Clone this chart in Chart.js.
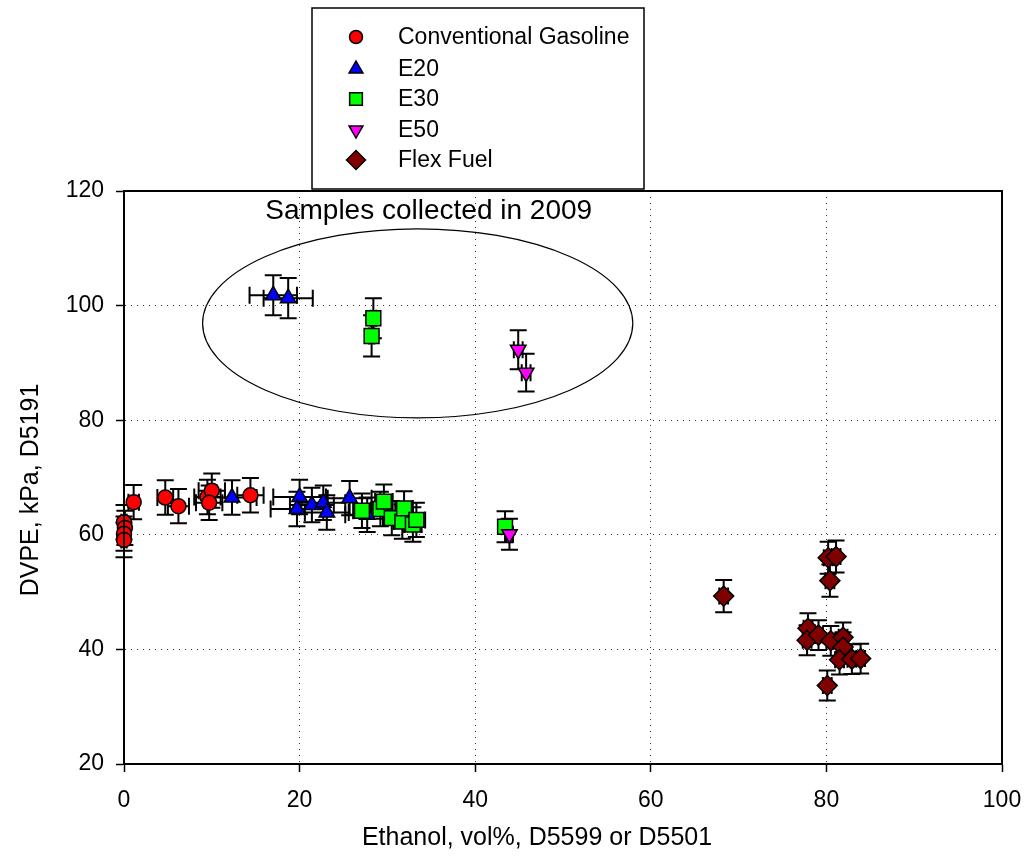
<!DOCTYPE html>
<html><head><meta charset="utf-8">
<script src="https://cdn.jsdelivr.net/npm/chart.js@4/dist/chart.umd.min.js"></script>
<style>html,body{margin:0;padding:0;background:#fff;}canvas{display:block;}</style>
</head><body>
<canvas id="c" width="1027" height="859"></canvas>
<script>
const FONT = '"Liberation Sans", Arial, Helvetica, sans-serif';

// ---- data ----
const seriesNames = ['Conventional Gasoline', 'E20', 'E30', 'E50', 'Flex Fuel'];

const gasX    = [0, 0.1, 0, 0, 1.1, 4.7, 6.2, 9.5, 10.0, 9.7, 14.4];
const gasY    = [62.2, 61.2, 60.2, 59.1, 65.7, 66.5, 65.0, 66.6, 67.7, 65.6, 66.9];
const gasXErr = [0.3, 0.3, 0.3, 0.3, 0.6, 0.9, 1.2, 1.5, 1.5, 1.5, 1.5];
const gasYErr = [3, 3, 3, 3, 3, 3, 3, 3, 3, 3, 3];

const e20X    = [17.0, 18.7, 12.3, 20.0, 19.7, 21.4, 22.7, 23.1, 25.7, 27.7];
const e20Y    = [101.8, 101.3, 66.5, 66.6, 64.5, 65.2, 65.6, 63.9, 66.4, 63.5];
const e20XErr = [2.7, 2.8, 2.8, 3.0, 3.0, 2.5, 2.5, 2.5, 2.5, 2.5];
const e20YErr = [3.5, 3.5, 3.0, 3.0, 3.0, 3.0, 3.0, 3.0, 3.0, 3.0];

const e30X    = [28.4, 28.2, 27.1, 29.2, 29.6, 30.5, 31.7, 31.9, 32.9, 33.3, 43.4];
const e30Y    = [97.8, 94.7, 64.2, 64.5, 65.8, 62.9, 62.3, 64.6, 61.8, 62.6, 61.4];
const e30XErr = [0.3, 0.3, 1, 1, 1, 1, 1, 1, 1, 1, 0.4];
const e30YErr = [3.5, 3.6, 3, 3, 3, 3, 3, 3, 3, 3, 2.7];

const e50X    = [44.9, 45.8, 43.9];
const e50Y    = [92.3, 88.3, 60.1];
const e50XErr = [0.5, 0.5, 0.4];
const e50YErr = [3.4, 3.3, 2.7];

const flexX    = [68.3, 80.2, 81.1, 80.4, 77.9, 77.8, 79.1, 80.5, 81.9, 81.9, 81.5, 82.9, 83.9, 80.1];
const flexY    = [49.3, 56.0, 56.2, 52.0, 43.7, 41.6, 42.5, 41.5, 42.1, 40.4, 38.2, 38.3, 38.4, 33.7];
const flexXErr = [0.5, 0.5, 0.5, 0.5, 0.5, 0.5, 0.5, 0.5, 0.5, 0.5, 0.5, 0.5, 0.5, 0.5];
const flexYErr = [2.8, 2.8, 2.8, 2.8, 2.6, 2.6, 2.6, 2.6, 2.6, 2.6, 2.6, 2.6, 2.6, 2.6];

const xTicks = [0, 20, 40, 60, 80, 100];
const yTicks = [20, 40, 60, 80, 100, 120];

const xTitle = 'Ethanol, vol%, D5599 or D5501';
const yTitle = 'DVPE, kPa, D5191';
const noteText = 'Samples collected in 2009';
const noteAt = [34.7, 116.5];
const ellipseCenter = [33.45, 96.9];
const ellipseRadii = [24.5, 16.5];

// ---- helpers ----
function pts(xs, ys) { return xs.map((x, i) => ({x: x, y: ys[i]})); }

function drawMarker(ctx, style, rot, x, y, r, fill) {
  ctx.save();
  ctx.fillStyle = fill; ctx.strokeStyle = '#000'; ctx.lineWidth = 1.5;
  ctx.beginPath();
  if (style === 'circle') {
    ctx.arc(x, y, r, 0, Math.PI * 2);
  } else if (style === 'triangle') {
    const s = rot ? -1 : 1;
    ctx.moveTo(x, y - s * r);
    ctx.lineTo(x + r * 0.866, y + s * r / 2);
    ctx.lineTo(x - r * 0.866, y + s * r / 2);
    ctx.closePath();
  } else if (style === 'rect') {
    const h = r * Math.SQRT1_2;
    ctx.rect(x - h, y - h, 2 * h, 2 * h);
  } else if (style === 'rectRot') {
    ctx.moveTo(x, y - r); ctx.lineTo(x + r, y); ctx.lineTo(x, y + r); ctx.lineTo(x - r, y);
    ctx.closePath();
  }
  ctx.fill(); ctx.stroke();
  ctx.restore();
}

function makeSet(idx, xs, ys, xe, ye, style, rot, r, legendR, fill) {
  return {
    label: seriesNames[idx], data: pts(xs, ys), xErr: xe, yErr: ye, legendRadius: legendR,
    order: seriesNames.length - idx,
    pointStyle: style, rotation: rot, pointRadius: r, pointHoverRadius: r,
    backgroundColor: fill, borderColor: '#000', borderWidth: 1.5,
    clip: false, showLine: false
  };
}

const datasets = [
  makeSet(0, gasX, gasY, gasXErr, gasYErr, 'circle', 0, 7.5, 6.5, '#ff0000'),
  makeSet(1, e20X, e20Y, e20XErr, e20YErr, 'triangle', 0, 9, 8, '#0000ff'),
  makeSet(2, e30X, e30Y, e30XErr, e30YErr, 'rect', 0, 10.5, 9, '#00ff00'),
  makeSet(3, e50X, e50Y, e50XErr, e50YErr, 'triangle', 180, 9, 8, '#ff00ff'),
  makeSet(4, flexX, flexY, flexXErr, flexYErr, 'rectRot', 0, 10, 9.5, '#800000')
];

const errorBars = {
  id: 'errorBars',
  beforeDatasetsDraw(chart) {
    const ctx = chart.ctx, xs = chart.scales.x, ys = chart.scales.y;
    const cap = 8.5;
    ctx.save();
    ctx.strokeStyle = '#000'; ctx.lineWidth = 2;
    chart.data.datasets.forEach(ds => {
      ds.data.forEach((p, i) => {
        const px = xs.getPixelForValue(p.x), py = ys.getPixelForValue(p.y);
        const y1 = ys.getPixelForValue(p.y + ds.yErr[i]), y2 = ys.getPixelForValue(p.y - ds.yErr[i]);
        const x1 = xs.getPixelForValue(p.x - ds.xErr[i]), x2 = xs.getPixelForValue(p.x + ds.xErr[i]);
        ctx.beginPath();
        ctx.moveTo(px, y1); ctx.lineTo(px, y2);
        ctx.moveTo(px - cap, y1); ctx.lineTo(px + cap, y1);
        ctx.moveTo(px - cap, y2); ctx.lineTo(px + cap, y2);
        ctx.moveTo(x1, py); ctx.lineTo(x2, py);
        ctx.moveTo(x1, py - cap); ctx.lineTo(x1, py + cap);
        ctx.moveTo(x2, py - cap); ctx.lineTo(x2, py + cap);
        ctx.stroke();
      });
    });
    ctx.restore();
  }
};

const decorations = {
  id: 'decorations',
  afterDraw(chart) {
    const ctx = chart.ctx, xs = chart.scales.x, ys = chart.scales.y, a = chart.chartArea;
    ctx.save();
    // frame
    ctx.strokeStyle = '#000'; ctx.lineWidth = 2;
    ctx.strokeRect(a.left, a.top, a.right - a.left, a.bottom - a.top);
    // ellipse
    const cx = xs.getPixelForValue(ellipseCenter[0]), cy = ys.getPixelForValue(ellipseCenter[1]);
    const rx = xs.getPixelForValue(ellipseCenter[0] + ellipseRadii[0]) - cx;
    const ry = cy - ys.getPixelForValue(ellipseCenter[1] + ellipseRadii[1]);
    ctx.lineWidth = 1.2;
    ctx.beginPath(); ctx.ellipse(cx, cy, rx, ry, 0, 0, Math.PI * 2); ctx.stroke();
    // note
    ctx.fillStyle = '#000';
    ctx.font = '28px ' + FONT; ctx.textAlign = 'center'; ctx.textBaseline = 'middle';
    ctx.fillText(noteText, xs.getPixelForValue(noteAt[0]), ys.getPixelForValue(noteAt[1]));
    // axis titles
    ctx.font = '25px ' + FONT;
    ctx.fillText(xTitle, 537, 838);
    ctx.save(); ctx.translate(31, 490); ctx.rotate(-Math.PI / 2);
    ctx.fillText(yTitle, 0, 0); ctx.restore();
    // legend
    ctx.lineWidth = 1.5; ctx.strokeStyle = '#000';
    ctx.strokeRect(312, 8, 332, 181);
    ctx.font = '23px ' + FONT; ctx.textAlign = 'left';
    const rows = [37, 69, 99, 130, 160];
    chart.data.datasets.forEach((ds, i) => {
      drawMarker(ctx, ds.pointStyle, ds.rotation, 356, rows[i], ds.legendRadius, ds.backgroundColor);
      ctx.fillStyle = '#000';
      ctx.fillText(ds.label, 398, rows[i] + 1);
    });
    ctx.restore();
  }
};

function gridColor(edgeA, edgeB) {
  return c => (c.tick && (c.tick.value === edgeA || c.tick.value === edgeB)) ? 'rgba(0,0,0,0)' : '#333';
}

new Chart(document.getElementById('c'), {
  type: 'scatter',
  data: { datasets: datasets },
  options: {
    responsive: false, animation: false, devicePixelRatio: 1,
    layout: { padding: { top: 191, right: 25, bottom: 0, left: 0 } },
    plugins: { legend: { display: false }, tooltip: { enabled: false } },
    scales: {
      x: {
        type: 'linear', min: 0, max: 100,
        afterBuildTicks: s => { s.ticks = xTicks.map(v => ({ value: v })); },
        afterFit: s => { s.height = 95; s.paddingLeft = 0; s.paddingRight = 0; },
        grid: { color: gridColor(0, 100), lineWidth: 1, tickColor: '#000', tickLength: 8, tickWidth: 1.5 },
        border: { display: true, color: '#000', width: 2, dash: [1, 5] },
        ticks: { color: '#000', font: { family: FONT, size: 23 }, padding: 15, maxRotation: 0 }
      },
      y: {
        type: 'linear', min: 20, max: 120,
        afterBuildTicks: s => { s.ticks = yTicks.map(v => ({ value: v })); },
        afterFit: s => { s.width = 124; s.paddingTop = 0; s.paddingBottom = 0; },
        grid: { color: gridColor(20, 120), lineWidth: 1, tickColor: '#000', tickLength: 8, tickWidth: 1.5 },
        border: { display: true, color: '#000', width: 2, dash: [1, 5] },
        ticks: { color: '#000', font: { family: FONT, size: 23 }, padding: 12 }
      }
    }
  },
  plugins: [errorBars, decorations]
});
</script>
</body></html>
